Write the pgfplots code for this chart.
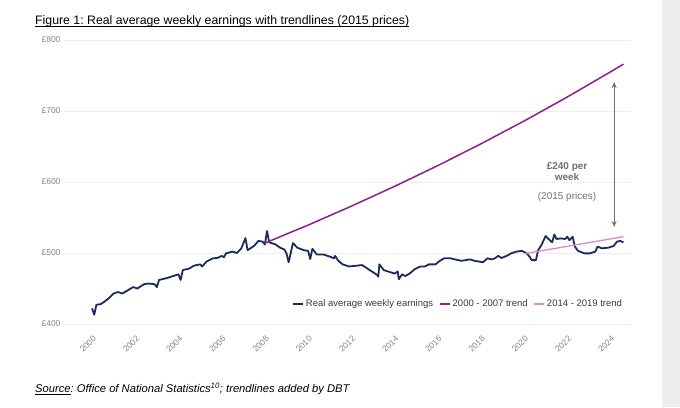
\documentclass[border=0pt]{standalone}
\usepackage{fontspec}
\setmainfont{Liberation Sans}
\usepackage{pgfplots}
\pgfplotsset{compat=1.18}
\usetikzlibrary{arrows.meta}
\definecolor{navy}{HTML}{1B2B5B}
\definecolor{trendpurple}{HTML}{8E1F8C}
\definecolor{trendpink}{HTML}{D98BC8}
\definecolor{ticktext}{HTML}{858585}
\definecolor{legtext}{HTML}{3A3A3A}
\definecolor{anntext}{HTML}{707070}
\definecolor{gridc}{HTML}{EEEEEE}
\definecolor{strip}{HTML}{EEEEF0}
\frenchspacing
\begin{document}
\begin{tikzpicture}[x=1pt,y=1pt]
\useasboundingbox (-64,-83) rectangle (616,324);
\fill[strip] (598,-83) rectangle (616,324);
\begin{axis}[
  at={(0,0)}, anchor=south west,
  scale only axis, width=567pt, height=284pt,
  xmin=1998.70, xmax=2024.95, ymin=400, ymax=800,
  axis line style={draw=none},
  major tick length=0pt,
  ymajorgrids, grid style={gridc, line width=0.9pt},
  ytick={400,500,600,700,800},
  yticklabels={£400,£500,£600,£700,£800},
  yticklabel style={font=\fontsize{8.5}{10}\selectfont, text=ticktext},
  xtick={2000,2002,2004,2006,2008,2010,2012,2014,2016,2018,2020,2022,2024},
  xticklabels={2000,2002,2004,2006,2008,2010,2012,2014,2016,2018,2020,2022,2024},
  xticklabel style={font=\fontsize{8.5}{10}\selectfont, text=ticktext, xshift=5pt, yshift=-11pt, rotate=45, anchor=east},
  clip=false,
  legend style={draw=none, fill=none, at={(rel axis cs:0.988,0.0704)}, anchor=east,
    font=\fontsize{9.5}{11}\selectfont, text=legtext, inner sep=0pt,
    /tikz/every even column/.append style={column sep=4pt}},
  legend columns=-1,
  legend image code/.code={\draw[#1] (0pt,0pt) -- (10pt,0pt);},
]
\addplot[navy, line width=1.8pt, line join=round] coordinates {
(2000.0,422) (2000.1,413) (2000.2,427) (2000.4,428) (2000.6,432) (2000.8,437)
(2001.0,443) (2001.2,445) (2001.4,443) (2001.6,446.5) (2001.9,452) (2002.1,450)
(2002.4,456) (2002.6,457) (2002.9,456) (2003.0,452) (2003.1,462) (2003.5,465)
(2003.8,468) (2004.0,470) (2004.1,462) (2004.2,476) (2004.5,478) (2004.7,482)
(2005.0,484) (2005.1,481) (2005.3,488) (2005.6,492.5) (2005.8,493) (2006.0,496)
(2006.1,494) (2006.2,499.5) (2006.5,502) (2006.7,500) (2006.9,506) (2007.1,521)
(2007.2,504) (2007.5,510) (2007.7,517) (2007.9,516) (2008.0,512) (2008.1,531)
(2008.2,515) (2008.5,512) (2008.7,507.5) (2008.9,505) (2009.0,499.5) (2009.1,487)
(2009.3,514) (2009.5,507.5) (2009.8,504) (2010.0,503) (2010.1,491.5) (2010.2,506)
(2010.4,498) (2010.7,498) (2011.0,495) (2011.2,492.5) (2011.25,496) (2011.4,489)
(2011.6,484) (2011.9,481) (2012.2,482) (2012.5,483) (2012.7,479) (2012.9,475)
(2013.2,469) (2013.25,466.6) (2013.3,484) (2013.5,476) (2013.7,474) (2014.0,471)
(2014.15,474) (2014.2,463) (2014.35,470) (2014.5,467.6) (2014.7,471) (2014.95,477.5)
(2015.2,481) (2015.4,481) (2015.6,484) (2015.9,484) (2016.1,489) (2016.3,492.5)
(2016.6,492.5) (2016.8,491) (2017.1,489) (2017.5,491) (2017.7,489) (2018.1,487)
(2018.3,492.5) (2018.5,491) (2018.65,492.5) (2018.8,496) (2018.95,493) (2019.2,496)
(2019.4,499.5) (2019.65,502) (2019.9,503) (2020.1,500) (2020.25,495) (2020.35,490)
(2020.55,490) (2020.65,504) (2020.8,511) (2021.0,524) (2021.1,520.6) (2021.3,515)
(2021.4,526) (2021.5,519.7) (2021.7,520.6) (2021.9,519.7) (2022.0,523) (2022.1,518)
(2022.25,523) (2022.35,509) (2022.5,503) (2022.8,499.5) (2023.05,499.5) (2023.3,502)
(2023.4,509) (2023.6,506.6) (2023.9,507.5) (2024.15,510) (2024.3,516) (2024.45,517)
(2024.6,515)
};
\addlegendentry{Real average weekly earnings}
\addplot[trendpurple, line width=1.5pt] coordinates {
(2008.0,514) (2010,539.3) (2012,565.9) (2014,593.8) (2016,623.0) (2018,653.7)
(2020,685.9) (2022,719.7) (2024,755.1) (2024.6,766)
};
\addlegendentry{2000 - 2007 trend}
\addplot[trendpink, line width=1.3pt] coordinates {
(2020.0,499) (2022.0,509.4) (2024.6,523)
};
\addlegendentry{2014 - 2019 trend}
\draw[anntext, line width=1pt, {Stealth[length=6pt,width=5pt]}-{Stealth[length=6pt,width=5pt]}]
  (axis cs:2024.17,740.8) -- (axis cs:2024.17,536.6);
\node[anntext, font=\fontsize{10}{12}\selectfont\bfseries, anchor=base] at (axis cs:2021.99,617) {£240 per};
\node[anntext, font=\fontsize{10}{12}\selectfont\bfseries, anchor=base] at (axis cs:2021.99,601.5) {week};
\node[anntext, font=\fontsize{10}{12}\selectfont, anchor=base] at (axis cs:2021.99,576) {(2015 prices)};
\end{axis}
\node[anchor=base west, inner sep=0pt, font=\fontsize{12.3}{14}\selectfont] (title) at (-29,299) {Figure 1: Real average weekly earnings with trendlines (2015 prices)};
\draw[line width=0.7pt] ([yshift=-1.7pt]title.base west) -- ([yshift=-1.7pt]title.base east);
\node[anchor=base west, inner sep=0pt, font=\fontsize{11.2}{13}\selectfont\itshape] at (-29,-68.5) {\underline{Source}: Office of National Statistics\textsuperscript{10}; trendlines added by DBT};
\end{tikzpicture}
\end{document}
